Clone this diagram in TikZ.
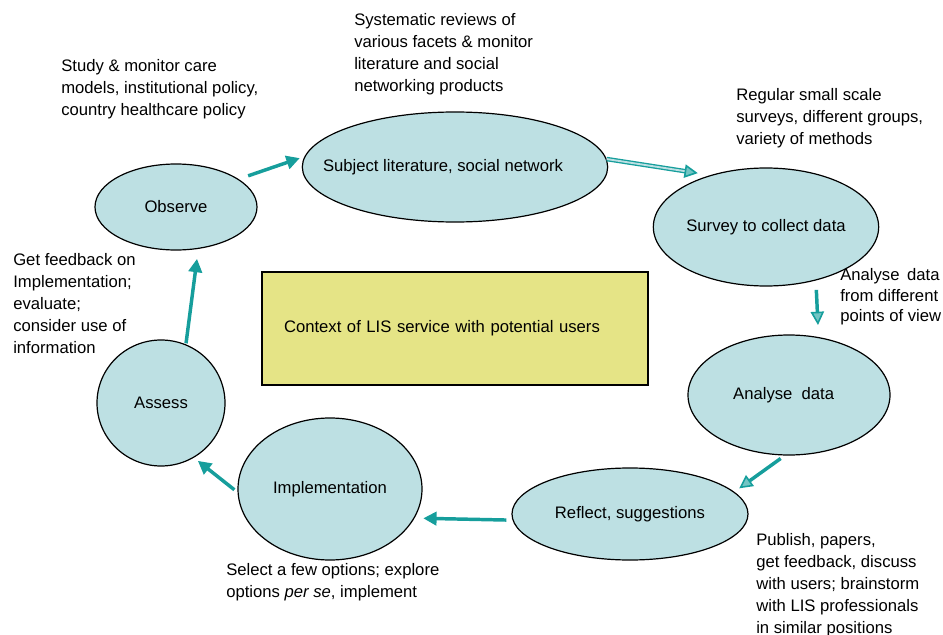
\documentclass[tikz,border=0pt]{standalone}
\usepackage{fontspec}
\setmainfont{Liberation Sans}
\usetikzlibrary{shapes.geometric,arrows.meta}

\definecolor{cyclefill}{RGB}{189,224,227}
\definecolor{contextfill}{RGB}{229,228,134}
\definecolor{flowteal}{RGB}{22,158,156}

\tikzset{
	stage/.style={ellipse, draw=black, line width=0.9pt, fill=cyclefill, inner sep=0pt},
	note/.style={anchor=north west, align=left, inner sep=0pt},
	flow/.style={draw=flowteal, line width=2.6pt, -{Triangle[length=10pt,width=10pt]}},
	hollow/.style={-{Triangle[length=10pt,width=10pt,line width=1.2pt,fill=flowteal!60]}},
}

\begin{document}
\begin{tikzpicture}[x=0.75pt, y=-0.75pt, font=\fontsize{12.5}{16.5}\selectfont]
	\useasboundingbox (0,0) rectangle (943,635);

	% the cycle
	\node[stage, minimum width=121.5pt, minimum height=64.5pt] (observe) at (176,207) {Observe};
	\node[stage, minimum width=225pt, minimum height=82.5pt] (subject) at (455,167) {\hspace*{-18pt}Subject literature, social network};
	\node[stage, minimum width=166.5pt, minimum height=88.5pt] (survey) at (766,227) {Survey to collect data};
	\node[stage, minimum width=151.5pt, minimum height=90pt] (analyse) at (789,395) {Analyse\ \ data\hspace*{8pt}};
	\node[stage, minimum width=177pt, minimum height=69pt] (reflect) at (630,514) {Reflect, suggestions};
	\node[stage, minimum width=138pt, minimum height=106.5pt] (implement) at (330,489) {Implementation};
	\node[stage, minimum width=96pt, minimum height=94.5pt] (assess) at (161,403) {Assess};

	\node[draw=black, line width=0.9pt, fill=contextfill, minimum width=289.5pt, minimum height=84.75pt,
		text width=256.5pt, align=left, inner sep=0pt] (context) at (455,328.5)
		{Context of LIS service with potential users};

	% arrows between the stages
	\draw[flow, shorten <=7.5pt, shorten >=3.75pt] (observe.24) -- (subject.176);
	\draw[draw=flowteal, line width=1pt, double=cyclefill, double distance=1.4pt, hollow,
		shorten >=9.5pt] (subject.3) -- (survey.137);
	\draw[flow, hollow, shorten <=7pt, shorten >=9pt] (survey.-47) -- (analyse.63);
	\draw[flow, hollow, shorten <=3.75pt, shorten >=4.5pt] (analyse.-94) -- (reflect.12);
	\draw[flow, shorten <=4.5pt, shorten >=6.5pt] (reflect.183) -- (implement.-19);
	\draw[flow, shorten <=3pt, shorten >=3.75pt] (implement.182) -- (assess.-59);
	\draw[flow, shorten <=0.75pt, shorten >=7.5pt] (assess.67) -- (observe.-62);

	% remarks round the cycle
	\node[note] (obsnote) at (61,59) {Study \& monitor care\\models, institutional policy,\\country healthcare policy};
	\node[note] (subnote) at (354,13) {Systematic reviews of\\various facets \& monitor\\literature and social\\networking products};
	\node[note] (surnote) at (736,88) {Regular small scale\\surveys, different groups,\\variety of methods};
	\node[note, font=\fontsize{12.5}{15.5}\selectfont] (ananote) at (840,268)
		{\makebox[74.5pt][l]{Analyse\hfill data}\\from different\\points of view};
	\node[note] (refnote) at (756,533) {Publish, papers,\\get feedback, discuss\\with users; brainstorm\\with LIS professionals\\in similar positions};
	\node[note] (impnote) at (226,563) {Select a few options; explore\\options \textit{per se}, implement};
	\node[note] (assnote) at (13,253) {Get feedback on\\Implementation;\\evaluate;\\consider use of\\information};
\end{tikzpicture}
\end{document}
